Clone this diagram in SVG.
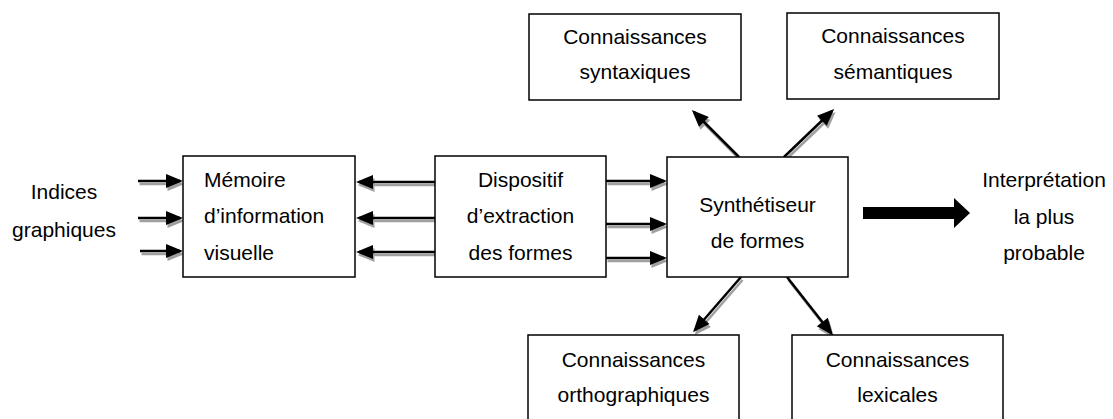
<svg xmlns="http://www.w3.org/2000/svg" width="1113" height="419" viewBox="0 0 1113 419">
<style>
.box{fill:#fff;stroke:#000;stroke-width:1.5}
text{font-family:"Liberation Sans",Arial,sans-serif;font-size:21px;fill:#000}
.c{text-anchor:middle}
.ln{stroke:#000;stroke-width:2.5;fill:none;marker-end:url(#hb)}
.sh{stroke:#a0a0a0;stroke-width:2.5;fill:none;marker-end:url(#hg)}
</style>
<defs>
<marker id="hb" markerUnits="userSpaceOnUse" markerWidth="17" markerHeight="14" refX="14" refY="7" orient="auto" overflow="visible">
<path d="M0,0 L17,7 L0,14 Z" fill="#000"/>
</marker>
<marker id="hg" markerUnits="userSpaceOnUse" markerWidth="17" markerHeight="14" refX="14" refY="7" orient="auto" overflow="visible">
<path d="M0,0 L17,7 L0,14 Z" fill="#a0a0a0"/>
</marker>
</defs>

<g id="connectors">
<g transform="translate(1.5,3)">
<path class="sh" d="M138,181 H180"/>
<path class="sh" d="M138,218 H180"/>
<path class="sh" d="M140,251 H180"/>
<path class="sh" d="M435,182 H359"/>
<path class="sh" d="M435,218 H359"/>
<path class="sh" d="M435,252 H359"/>
<path class="sh" d="M606,181 H664"/>
<path class="sh" d="M606,224 H664"/>
<path class="sh" d="M606,258 H664"/>
<path class="sh" d="M739,157 L694,112"/>
<path class="sh" d="M784,157 L832,111"/>
<path class="sh" d="M741,277 L695,330"/>
<path class="sh" d="M787,277 L831,333"/>
</g>
<path class="ln" d="M138,181 H180"/>
<path class="ln" d="M138,218 H180"/>
<path class="ln" d="M140,251 H180"/>
<path class="ln" d="M435,182 H359"/>
<path class="ln" d="M435,218 H359"/>
<path class="ln" d="M435,252 H359"/>
<path class="ln" d="M606,181 H664"/>
<path class="ln" d="M606,224 H664"/>
<path class="ln" d="M606,258 H664"/>
<path class="ln" d="M739,157 L694,112"/>
<path class="ln" d="M784,157 L832,111"/>
<path class="ln" d="M741,277 L695,330"/>
<path class="ln" d="M787,277 L831,333"/>
<path d="M863,207 H954 V198 L970,213 L954,228 V219 H863 Z" fill="#000"/>
</g>

<g id="indices">
<text class="c" x="64" y="199">Indices</text>
<text class="c" x="64" y="237">graphiques</text>
</g>

<g id="memoire">
<rect class="box" x="183" y="156" width="172" height="121"/>
<text x="204" y="187">Mémoire</text>
<text x="204" y="223">d’information</text>
<text x="204" y="260">visuelle</text>
</g>

<g id="dispositif">
<rect class="box" x="435" y="156" width="171" height="121"/>
<text class="c" x="520.5" y="187">Dispositif</text>
<text class="c" x="520.5" y="223">d’extraction</text>
<text class="c" x="520.5" y="260">des formes</text>
</g>

<g id="synthetiseur">
<rect class="box" x="667" y="157" width="181" height="120"/>
<text class="c" x="757.5" y="212">Synthétiseur</text>
<text class="c" x="757.5" y="248">de formes</text>
</g>

<g id="syntaxiques">
<rect class="box" x="529" y="14" width="212" height="86"/>
<text class="c" x="635" y="44">Connaissances</text>
<text class="c" x="635" y="79">syntaxiques</text>
</g>

<g id="semantiques">
<rect class="box" x="787" y="13" width="212" height="86"/>
<text class="c" x="893" y="43">Connaissances</text>
<text class="c" x="893" y="79">sémantiques</text>
</g>

<g id="orthographiques">
<rect class="box" x="528" y="335" width="211" height="95"/>
<text class="c" x="633.5" y="367">Connaissances</text>
<text class="c" x="633.5" y="402">orthographiques</text>
</g>

<g id="lexicales">
<rect class="box" x="792" y="335" width="211" height="95"/>
<text class="c" x="897.5" y="367">Connaissances</text>
<text class="c" x="897.5" y="402">lexicales</text>
</g>

<g id="interpretation">
<text class="c" x="1044" y="187">Interprétation</text>
<text class="c" x="1044" y="224">la plus</text>
<text class="c" x="1044" y="260">probable</text>
</g>
</svg>
